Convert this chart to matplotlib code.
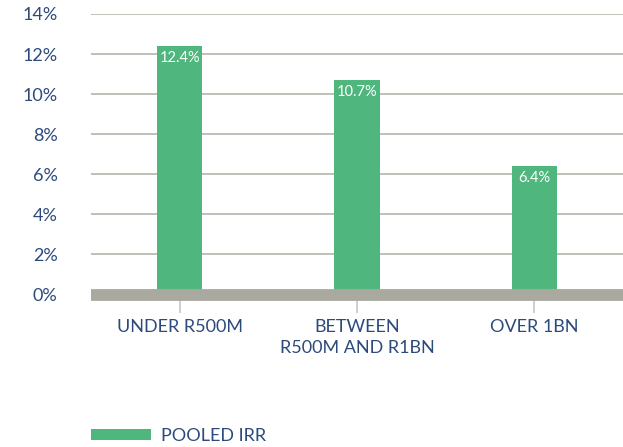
import matplotlib
matplotlib.use("Agg")
import matplotlib.pyplot as plt
from matplotlib.patches import Patch

categories = ["UNDER R500M", "BETWEEN\nR500M AND R1BN", "OVER 1BN"]
values = [12.4, 10.7, 6.4]
labels = ["12.4%", "10.7%", "6.4%"]
yticks = [0, 2, 4, 6, 8, 10, 12, 14]
series_name = "POOLED IRR"

GREEN = "#4fb77d"
GREY = "#aaa9a0"
TEXT = "#2c4a7c"

plt.rcParams['font.family'] = ['Lato', 'DejaVu Sans']

fig = plt.figure(figsize=(6.23, 4.47), dpi=100)
ax = fig.add_axes([91/623, 1-294.5/447, 1-91/623, (294.5-14)/447])

x = list(range(len(categories)))
bars = ax.bar(x, values, width=0.254, color=GREEN, zorder=2)
for b, lab in zip(bars, labels):
    ax.text(b.get_x() + b.get_width()/2, b.get_height() - 0.25, lab,
            ha="center", va="top", color="white", fontsize=10.5, zorder=3)

ax.set_xlim(-0.5, 2.5)
ax.set_ylim(0, 14)
ax.set_yticks(yticks)
ax.set_yticklabels([f"{t}%" for t in yticks])
ax.grid(axis="y", color="#b5b4ac", linewidth=1.2, zorder=0)
ax.set_axisbelow(True)

for s in ["top", "right", "left"]:
    ax.spines[s].set_visible(False)
ax.spines["bottom"].set_color(GREY)
ax.spines["bottom"].set_linewidth(8.5)
ax.spines["bottom"].set_capstyle("butt")
ax.spines["bottom"].set_zorder(4)

ax.set_xticks(x)
ax.set_xticklabels(categories)
ax.tick_params(axis="x", colors="#c8c8c2", length=13, width=1.2, pad=5,
               labelcolor=TEXT, labelsize=13)
ax.tick_params(axis="y", length=0, pad=24, labelcolor=TEXT, labelsize=13)
for t in ax.get_xticklabels():
    t.set_linespacing(1.35)

handle = Patch(facecolor=GREEN, edgecolor="none")
leg = fig.legend([handle], [series_name], loc="center left",
                 bbox_to_anchor=(91/623, 1-436/447), frameon=False,
                 borderpad=0, borderaxespad=0,
                 handlelength=3.3, handleheight=0.55, handletextpad=0.55,
                 fontsize=13)
for t in leg.get_texts():
    t.set_color(TEXT)

fig.savefig("out.png", dpi=100)
